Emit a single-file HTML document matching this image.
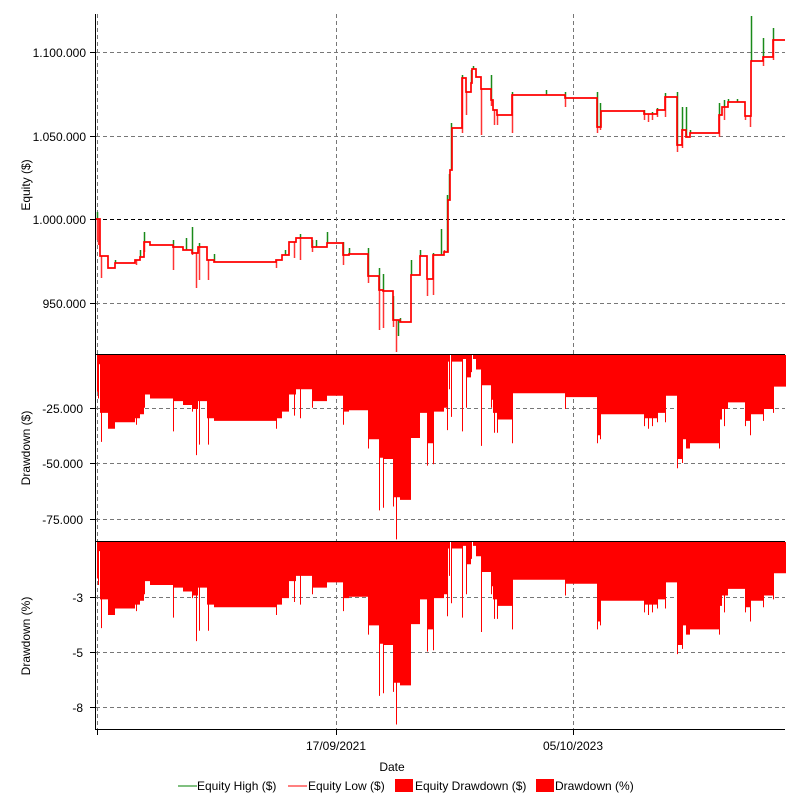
<!DOCTYPE html>
<html><head><meta charset="utf-8"><style>
html,body{margin:0;padding:0;background:#fff;}
svg text{font-family:"Liberation Sans",sans-serif;font-size:12px;fill:#000;}
</style></head><body>
<svg id="s" width="800" height="800" xmlns="http://www.w3.org/2000/svg">
<rect width="800" height="800" fill="#fff"/>
<g id="grid" stroke="#777" stroke-dasharray="4,3" stroke-width="1" fill="none">
<line x1="96" y1="52.5" x2="785" y2="52.5"/>
<line x1="96" y1="136.5" x2="785" y2="136.5"/>
<line x1="96" y1="219.5" x2="785" y2="219.5" stroke="#000"/>
<line x1="96" y1="303.5" x2="785" y2="303.5"/>
<line x1="96" y1="408.5" x2="785" y2="408.5"/>
<line x1="96" y1="463.5" x2="785" y2="463.5"/>
<line x1="96" y1="519.5" x2="785" y2="519.5"/>
<line x1="96" y1="597.5" x2="785" y2="597.5"/>
<line x1="96" y1="652.5" x2="785" y2="652.5"/>
<line x1="96" y1="707.5" x2="785" y2="707.5"/>
<line x1="97.5" y1="14" x2="97.5" y2="729"/>
<line x1="336.5" y1="14" x2="336.5" y2="729"/>
<line x1="573.5" y1="14" x2="573.5" y2="729"/>
</g>
<g id="plot"></g>
<g stroke="#000" stroke-width="1" fill="none">
<line x1="95.5" y1="14" x2="95.5" y2="730"/>
<line x1="95" y1="729.5" x2="785" y2="729.5"/>
<line x1="95" y1="354.5" x2="785" y2="354.5"/>
<line x1="95" y1="541.5" x2="785" y2="541.5"/>
<line x1="90" y1="52.5" x2="95" y2="52.5"/><line x1="90" y1="136.5" x2="95" y2="136.5"/>
<line x1="90" y1="219.5" x2="95" y2="219.5"/><line x1="90" y1="303.5" x2="95" y2="303.5"/>
<line x1="90" y1="408.5" x2="95" y2="408.5"/><line x1="90" y1="463.5" x2="95" y2="463.5"/>
<line x1="90" y1="519.5" x2="95" y2="519.5"/><line x1="90" y1="597.5" x2="95" y2="597.5"/>
<line x1="90" y1="652.5" x2="95" y2="652.5"/><line x1="90" y1="707.5" x2="95" y2="707.5"/>
<line x1="97.5" y1="729" x2="97.5" y2="735"/><line x1="336.5" y1="729" x2="336.5" y2="735"/>
<line x1="573.5" y1="729" x2="573.5" y2="735"/>
</g>
<g text-anchor="end">
<text x="86" y="57">1.100.000</text><text x="86" y="141">1.050.000</text>
<text x="86" y="224">1.000.000</text><text x="86" y="308">950.000</text>
<text x="83" y="413">-25.000</text><text x="83" y="468">-50.000</text><text x="83" y="524">-75.000</text>
<text x="83" y="602">-3</text><text x="83" y="657">-5</text><text x="83" y="712">-8</text>
</g>
<text transform="translate(30,185) rotate(-90)" text-anchor="middle">Equity ($)</text>
<text transform="translate(30,448) rotate(-90)" text-anchor="middle">Drawdown ($)</text>
<text transform="translate(30,636) rotate(-90)" text-anchor="middle">Drawdown (%)</text>
<text x="336" y="750" text-anchor="middle">17/09/2021</text>
<text x="573" y="750" text-anchor="middle">05/10/2023</text>
<text x="392" y="771" text-anchor="middle">Date</text>
<line x1="178" y1="786" x2="197" y2="786" stroke="#008000"/>
<text x="197" y="790">Equity High ($)</text>
<line x1="288" y1="786" x2="307" y2="786" stroke="#f00"/>
<text x="308" y="790">Equity Low ($)</text>
<rect x="395" y="779" width="18" height="13" fill="#f00"/>
<text x="415" y="790">Equity Drawdown ($)</text>
<rect x="536" y="779" width="18" height="13" fill="#f00"/>
<text x="555" y="790">Drawdown (%)</text>
</svg>
<script>
var steps=[[96,219],[100,256],[108,268],[115,263],[135,260],[140,257],[144,242],[150,245],[173,247],[183,250],[192,253],[198,247],[207,260],[214,262],[276,260],[282,255],[289,242],[296,238],[312,247],[327,243],[343,255],[349,254],[368,276],[379,290],[383,291],[393,320],[400,322],[411,275],[420,256],[427,279],[433,255],[444,252],[448,200],[450,170],[452,128],[462,78],[466,92],[471,83],[472,69],[476,77],[481,89],[491,100],[493,110],[497,115],[512,95],[565,98],[597,127],[601,111],[644,114],[657,110],[665,97],[677,145],[682,130],[686,137],[690,133],[719,115],[722,107],[728,102],[745,116],[751,61],[763,57],[773,40],[785,40]];
var sp=[[97,212,240],[98,null,245],[101,null,278],[115,260,null],[136,null,265],[140,250,null],[144,232,252],[173,240,270],[186,238,null],[192,227,255],[196,null,288],[199,243,280],[208,null,280],[214,254,null],[276,null,268],[285,250,null],[294,null,258],[300,234,260],[312,240,252],[316,240,null],[327,232,null],[343,242,265],[349,248,null],[368,248,283],[379,268,330],[383,274,328],[393,296,327],[396,null,352],[398,336,null],[400,318,null],[411,260,null],[420,250,null],[427,null,296],[433,253,295],[441,229,null],[444,null,250],[447,195,null],[449,174,null],[451,123,null],[462,75,133],[466,null,115],[471,70,null],[473,66,null],[481,null,135],[491,75,106],[494,null,125],[497,null,125],[512,92,133],[546,90,null],[565,92,107],[597,92,133],[600,103,130],[644,110,120],[648,null,122],[652,112,120],[657,108,117],[665,93,117],[677,92,152],[682,107,148],[686,107,135],[690,130,null],[719,103,137],[724,100,120],[728,99,null],[737,99,null],[745,null,120],[750,null,127],[751,16,null],[763,38,66],[773,28,60]];
function lvl(x){var y=steps[0][1];for(var i=0;i<steps.length;i++){if(steps[i][0]<=x)y=steps[i][1];}return y;}
var hi={},lo={};
for(var x=96;x<=785;x++){hi[x]=lvl(x);lo[x]=lvl(x);}
sp.forEach(function(s){if(s[1]!=null)hi[s[0]]=Math.min(hi[s[0]],s[1]);if(s[2]!=null)lo[s[0]]=Math.max(lo[s[0]],s[2]);});
var peak=1e9,p1="M96,355",p2="M96,542";
for(var x=96;x<=785;x++){peak=Math.min(peak,hi[x]);var d=Math.max(0,(lo[x]-peak)*1.317);
p1+=" L"+x+","+(355+d).toFixed(1)+" L"+(x+1)+","+(355+d).toFixed(1);
p2+=" L"+x+","+(542+d*0.99).toFixed(1)+" L"+(x+1)+","+(542+d*0.99).toFixed(1);}
p1+=" L786,355 Z";p2+=" L786,542 Z";
var h='<path d="'+p1+'" fill="#f00"/><path d="'+p2+'" fill="#f00"/>';
var g='',r='';
sp.forEach(function(s){var L=lvl(s[0]);if(s[1]!=null)g+='<line x1="'+(s[0]+.5)+'" y1="'+L+'" x2="'+(s[0]+.5)+'" y2="'+s[1]+'"/>';if(s[2]!=null)r+='<line x1="'+(s[0]+.5)+'" y1="'+L+'" x2="'+(s[0]+.5)+'" y2="'+s[2]+'"/>';});
h+='<g stroke="#1a8a1a" stroke-width="1.5">'+g+'</g><g stroke="#f33" stroke-width="1.5">'+r+'</g>';
var d="M96,"+steps[0][1];
for(var i=1;i<steps.length;i++){d+=" H"+steps[i][0]+" V"+steps[i][1];}
h+='<path d="'+d+'" fill="none" stroke="#f00" stroke-width="1.7"/>';
document.getElementById("plot").innerHTML=h;
</script>
</body></html>
